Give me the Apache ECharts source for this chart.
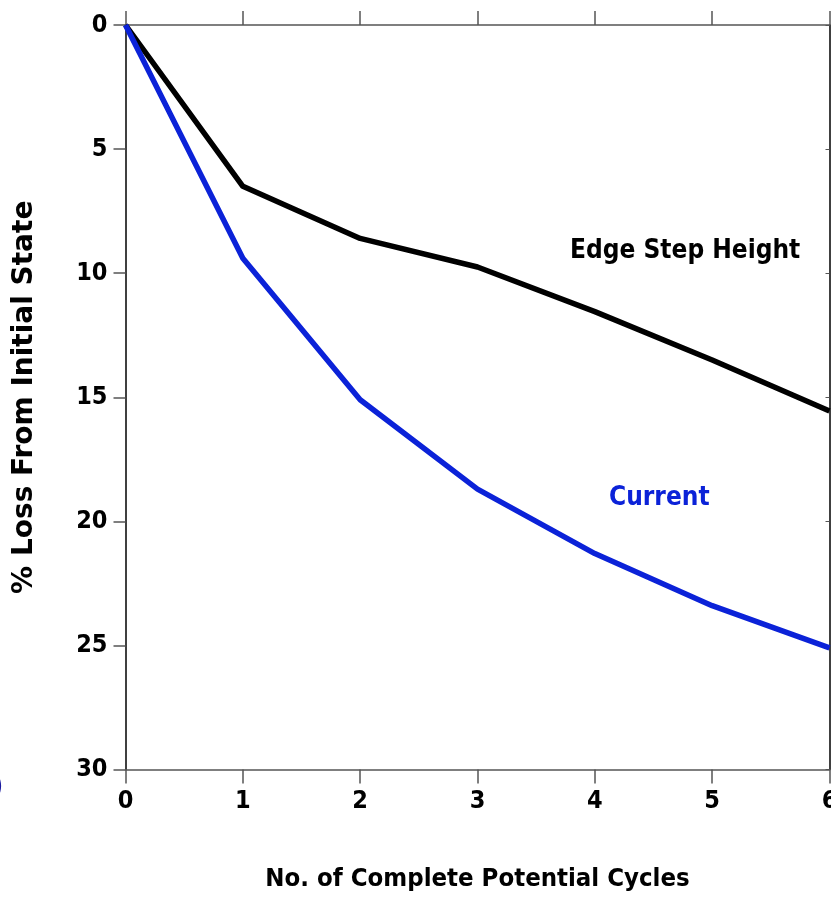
<!DOCTYPE html>
<html><head><meta charset="utf-8">
<script src="https://cdn.jsdelivr.net/npm/echarts@6/dist/echarts.min.js"></script>
<style>html,body{margin:0;padding:0;background:#fff}#c{width:831px;height:898px}</style>
</head><body><div id="c"></div>
<script>
var cycles = [0, 1, 2, 3, 4, 5, 6];
var edgeStepHeight = [0, 6.5, 8.6, 9.75, 11.55, 13.5, 15.55];
var current = [0, 9.4, 15.1, 18.7, 21.3, 23.4, 25.1];
var yTicks = [0, 5, 10, 15, 20, 25, 30];

var NARROW = '"DejaVu Sans Condensed", "Liberation Sans Narrow", sans-serif';
var chart = echarts.init(document.getElementById('c'));
var tickLbl = {fontFamily: NARROW, fontWeight: 'bold', fontSize: 25, color: '#000'};
chart.setOption({
  animation: false,
  grid: {left: 125.5, right: 1.5, top: 25, bottom: 128.5, containLabel: false, outerBoundsMode: 'none'},
  xAxis: [
    {type: 'value', min: 0, max: 6, interval: 1, position: 'bottom',
     axisLine: {onZero: false, lineStyle: {color: '#555', width: 1.5}},
     axisTick: {inside: false, length: 14, lineStyle: {color: '#555', width: 1.5}},
     axisLabel: Object.assign({margin: 19}, tickLbl),
     splitLine: {show: false},
     name: 'No. of Complete Potential Cycles', nameLocation: 'middle', nameGap: 97,
     nameTextStyle: {fontFamily: NARROW, fontWeight: 'bold', fontSize: 25.5, color: '#000'}},
    {type: 'value', min: 0, max: 6, interval: 1, position: 'top',
     axisLine: {onZero: false, lineStyle: {color: '#555', width: 1.5}},
     axisTick: {inside: false, length: 14, lineStyle: {color: '#555', width: 1.5}},
     axisLabel: {show: false}, splitLine: {show: false}}
  ],
  yAxis: [
    {type: 'value', inverse: true, min: 0, max: 30, interval: 5, position: 'left',
     axisLine: {onZero: false, lineStyle: {color: '#000', width: 1.5}},
     axisTick: {inside: false, length: 12, lineStyle: {color: '#555', width: 1.5}},
     axisLabel: Object.assign({margin: 18, formatter: function (v) { return yTicks.indexOf(v) >= 0 ? String(v) : ''; }}, tickLbl),
     splitLine: {show: false},
     name: '% Loss From Initial State', nameLocation: 'middle', nameGap: 87,
     nameTextStyle: {fontFamily: '"DejaVu Sans", sans-serif', fontWeight: 'bold', fontSize: 28, color: '#000'}},
    {type: 'value', inverse: true, min: 0, max: 30, interval: 5, position: 'right',
     axisLine: {onZero: false, lineStyle: {color: '#000', width: 1.5}},
     axisTick: {inside: true, length: 4, lineStyle: {color: '#555', width: 1}},
     axisLabel: {show: false}, splitLine: {show: false}}
  ],
  series: [
    {type: 'line', name: 'Edge Step Height', data: cycles.map(function (x, i) { return [x, edgeStepHeight[i]]; }),
     symbol: 'none', lineStyle: {color: '#000', width: 5.5}, z: 3},
    {type: 'line', name: 'Current', data: cycles.map(function (x, i) { return [x, current[i]]; }),
     symbol: 'none', lineStyle: {color: '#0b22d8', width: 5.5}, z: 3}
  ],
  graphic: [
    {type: 'text', left: 570, top: 238, style: {text: 'Edge Step Height', fontFamily: NARROW, fontWeight: 'bold', fontSize: 26, fill: '#000'}},
    {type: 'text', left: 609, top: 485, style: {text: 'Current', fontFamily: NARROW, fontWeight: 'bold', fontSize: 26, fill: '#0b22d8'}},
    {type: 'text', left: -6, top: 774, style: {text: ')', fontFamily: NARROW, fontSize: 26, fill: '#1a1aa0'}}
  ]
});
</script></body></html>
